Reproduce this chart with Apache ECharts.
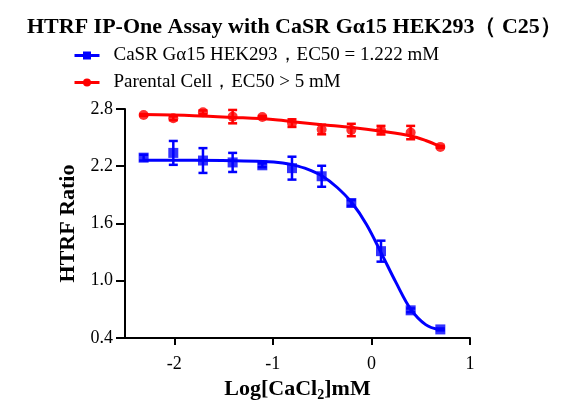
<!DOCTYPE html>
<html>
<head>
<meta charset="utf-8">
<script src="https://cdn.jsdelivr.net/npm/echarts@6/dist/echarts.min.js"></script>
<style>
  html, body { margin: 0; padding: 0; background: #fff; }
  #chart { width: 575px; height: 407px; }
</style>
</head>
<body>
<div id="chart"></div>
<script>
// log10 of CaCl2 concentration (mM), 2-fold dilutions from 5 mM
const logConc = [-2.311, -2.010, -1.709, -1.408, -1.107, -0.806, -0.505, -0.204, 0.097, 0.398, 0.699];

const casrMean = [2.29, 2.34, 2.26, 2.24, 2.21, 2.18, 2.095, 1.815, 1.31, 0.69, 0.49];
const casrSd = [0.03, 0.125, 0.13, 0.10, 0.02, 0.12, 0.11, 0.03, 0.11, 0.02, 0.01];

const parentMean = [2.737, 2.703, 2.765, 2.72, 2.717, 2.652, 2.585, 2.58, 2.578, 2.553, 2.403];
const parentSd = [0.01, 0.02, 0.02, 0.07, 0.01, 0.04, 0.05, 0.065, 0.045, 0.07, 0.01];

// fitted curves
const casrFit = [
  [-2.32, 2.262], [-1.8, 2.262], [-1.4, 2.258], [-1.1, 2.25], [-0.9, 2.235],
  [-0.8, 2.215], [-0.65, 2.17], [-0.5, 2.098], [-0.35, 1.98], [-0.2, 1.82],
  [-0.05, 1.59], [0.1, 1.29], [0.25, 0.98], [0.4, 0.70], [0.55, 0.54], [0.69, 0.485]
];
const parentFit = [
  [-2.32, 2.742], [-1.8, 2.73], [-1.4, 2.712], [-1.0, 2.69], [-0.8, 2.667],
  [-0.5, 2.635], [-0.2, 2.606], [0.1, 2.567], [0.4, 2.518], [0.55, 2.47], [0.69, 2.41]
];

const xTicks = [-2, -1, 0, 1];
const yTicks = [0.4, 1.0, 1.6, 2.2, 2.8];

const casrName = 'CaSR Gα15 HEK293，EC50 = 1.222 mM';
const parentName = 'Parental Cell，EC50 > 5 mM';
const BLUE = '#0000ff';
const RED = '#ff0000';
const SERIF = '"Liberation Serif", "Times New Roman", serif';

function errorBars(color) {
  return function (params, api) {
    const x = api.value(0), y = api.value(1), e = api.value(2);
    const top = api.coord([x, y + e]);
    const bot = api.coord([x, y - e]);
    const half = 4.5;
    const style = {stroke: color, lineWidth: 2.5};
    return {
      type: 'group',
      children: [
        {type: 'line', shape: {x1: top[0], y1: top[1], x2: bot[0], y2: bot[1]}, style: style},
        {type: 'line', shape: {x1: top[0] - half, y1: top[1], x2: top[0] + half, y2: top[1]}, style: style},
        {type: 'line', shape: {x1: bot[0] - half, y1: bot[1], x2: bot[0] + half, y2: bot[1]}, style: style}
      ]
    };
  };
}

const chart = echarts.init(document.getElementById('chart'), null, {renderer: 'canvas'});

chart.setOption({
  animation: false,
  title: {
    text: 'HTRF IP-One Assay with CaSR Gα15 HEK293（ C25）',
    left: 22,
    top: 11,
    textStyle: {fontFamily: SERIF, fontWeight: 'bold', fontSize: 22, color: '#000'}
  },
  legend: {
    data: [casrName, parentName],
    orient: 'vertical',
    left: 68,
    top: 41,
    itemWidth: 25,
    itemHeight: 10,
    itemGap: 8,
    lineStyle: {width: 3},
    textStyle: {fontFamily: SERIF, fontSize: 19, color: '#000', lineHeight: 19, padding: [0, 0, 0, 9]}
  },
  grid: {left: 125, right: 105, top: 109, bottom: 69},
  xAxis: {
    type: 'value',
    min: -2.5,
    max: 1,
    name: '{b|Log[CaCl}{s|2}{b|]mM}',
    nameLocation: 'middle',
    nameGap: 37,
    nameTextStyle: {
      rich: {
        b: {fontFamily: SERIF, fontWeight: 'bold', fontSize: 22, color: '#000', lineHeight: 26},
        s: {fontFamily: SERIF, fontWeight: 'bold', fontSize: 14, color: '#000', verticalAlign: 'bottom', lineHeight: 14}
      }
    },
    splitLine: {show: false},
    axisLine: {onZero: false, lineStyle: {color: '#000', width: 2}},
    axisTick: {customValues: xTicks, length: 7, lineStyle: {color: '#000', width: 2}},
    axisLabel: {customValues: xTicks, margin: 17, fontFamily: SERIF, fontSize: 18, color: '#000'}
  },
  yAxis: {
    type: 'value',
    min: 0.4,
    max: 2.8,
    name: 'HTRF Ratio',
    nameLocation: 'middle',
    nameGap: 45,
    nameTextStyle: {fontFamily: SERIF, fontWeight: 'bold', fontSize: 22, color: '#000'},
    splitLine: {show: false},
    axisLine: {show: true, onZero: false, lineStyle: {color: '#000', width: 2}},
    axisTick: {show: true, customValues: yTicks, length: 9, lineStyle: {color: '#000', width: 2}},
    axisLabel: {
      customValues: yTicks, margin: 12, fontFamily: SERIF, fontSize: 18, color: '#000',
      formatter: function (v) { return v.toFixed(1); }
    }
  },
  series: [
    {
      name: casrName,
      type: 'line',
      data: casrFit,
      smooth: 0.35,
      showSymbol: false,
      symbol: 'rect',
      color: BLUE,
      lineStyle: {color: BLUE, width: 3},
      z: 2
    },
    {
      name: parentName,
      type: 'line',
      data: parentFit,
      smooth: 0.35,
      showSymbol: false,
      symbol: 'circle',
      color: RED,
      lineStyle: {color: RED, width: 3},
      z: 2
    },
    {
      name: 'casrErr',
      type: 'custom',
      renderItem: errorBars(BLUE),
      data: logConc.map((x, i) => [x, casrMean[i], casrSd[i]]),
      encode: {x: 0, y: 1},
      z: 3
    },
    {
      name: 'parentErr',
      type: 'custom',
      renderItem: errorBars(RED),
      data: logConc.map((x, i) => [x, parentMean[i], parentSd[i]]),
      encode: {x: 0, y: 1},
      z: 3
    },
    {
      name: 'casrPts',
      type: 'scatter',
      data: logConc.map((x, i) => [x, casrMean[i]]),
      symbol: 'rect',
      symbolSize: 10,
      itemStyle: {color: BLUE},
      z: 4
    },
    {
      name: 'parentPts',
      type: 'scatter',
      data: logConc.map((x, i) => [x, parentMean[i]]),
      symbol: 'circle',
      symbolSize: 10,
      itemStyle: {color: RED},
      z: 4
    }
  ]
});
</script>
</body>
</html>
